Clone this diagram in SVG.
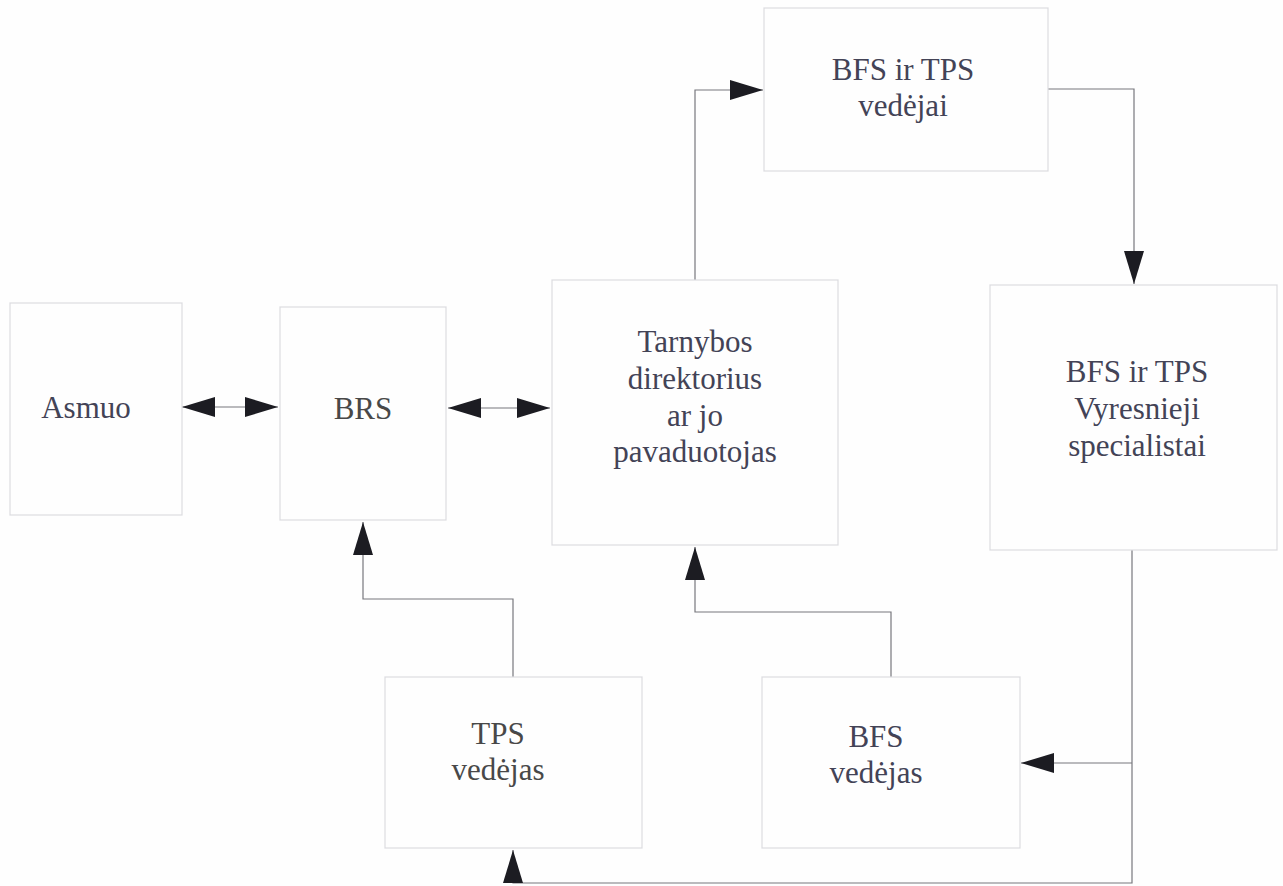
<svg xmlns="http://www.w3.org/2000/svg" width="1283" height="886" viewBox="0 0 1283 886">
<style>
.box{fill:#fefefe;stroke:#dcdce0;stroke-width:1.2}
.t{font-family:"Liberation Serif","Times New Roman",serif;font-size:31px;fill:#434356;text-anchor:middle}
.g{fill:#484848}
.c{fill:none;stroke:#77777d;stroke-width:1.2}
</style>
<defs>
<marker id="ah" viewBox="0 0 33 20" markerWidth="33" markerHeight="20" refX="33" refY="10" orient="auto-start-reverse" markerUnits="userSpaceOnUse">
<path d="M0,0 L33,10 L0,20 z" fill="#1c1c22"/>
</marker>
</defs>
<rect width="1283" height="886" fill="#fefefe"/>
<g id="connectors">
<path class="c" d="M182,407 H278" marker-start="url(#ah)" marker-end="url(#ah)"/>
<path class="c" d="M448,408 H550" marker-start="url(#ah)" marker-end="url(#ah)"/>
<path class="c" d="M695,280 V90 H763" marker-end="url(#ah)"/>
<path class="c" d="M1048,89 H1134 V284" marker-end="url(#ah)"/>
<path class="c" d="M1132,763 H1021" marker-end="url(#ah)"/>
<path class="c" d="M1132,550 V883 H513 V850" marker-end="url(#ah)"/>
<path class="c" d="M513,677 V599 H363 V522" marker-end="url(#ah)"/>
<path class="c" d="M891,677 V612 H695 V547" marker-end="url(#ah)"/>
</g>
<g id="asmuo">
<rect class="box" x="10" y="303" width="172" height="212"/>
<text class="t" x="86" y="418">Asmuo</text>
</g>
<g id="brs">
<rect class="box" x="280" y="307" width="166" height="213"/>
<text class="t g" x="363" y="419">BRS</text>
</g>
<g id="tarnybos">
<rect class="box" x="552" y="280" width="286" height="265"/>
<text class="t" x="695" y="352">Tarnybos</text>
<text class="t" x="695" y="389">direktorius</text>
<text class="t" x="695" y="426">ar jo</text>
<text class="t" x="695" y="462">pavaduotojas</text>
</g>
<g id="vedejai">
<rect class="box" x="764" y="8" width="284" height="163"/>
<text class="t" x="903" y="80">BFS ir TPS</text>
<text class="t" x="903" y="116">vedėjai</text>
</g>
<g id="vyresnieji">
<rect class="box" x="990" y="285" width="287" height="265"/>
<text class="t" x="1137" y="382">BFS ir TPS</text>
<text class="t" x="1137" y="419">Vyresnieji</text>
<text class="t" x="1137" y="456">specialistai</text>
</g>
<g id="tps-vedejas">
<rect class="box" x="385" y="677" width="257" height="171"/>
<text class="t g" x="498" y="744">TPS</text>
<text class="t g" x="498" y="780">vedėjas</text>
</g>
<g id="bfs-vedejas">
<rect class="box" x="762" y="677" width="258" height="171"/>
<text class="t" x="876" y="747">BFS</text>
<text class="t" x="876" y="783">vedėjas</text>
</g>
</svg>
